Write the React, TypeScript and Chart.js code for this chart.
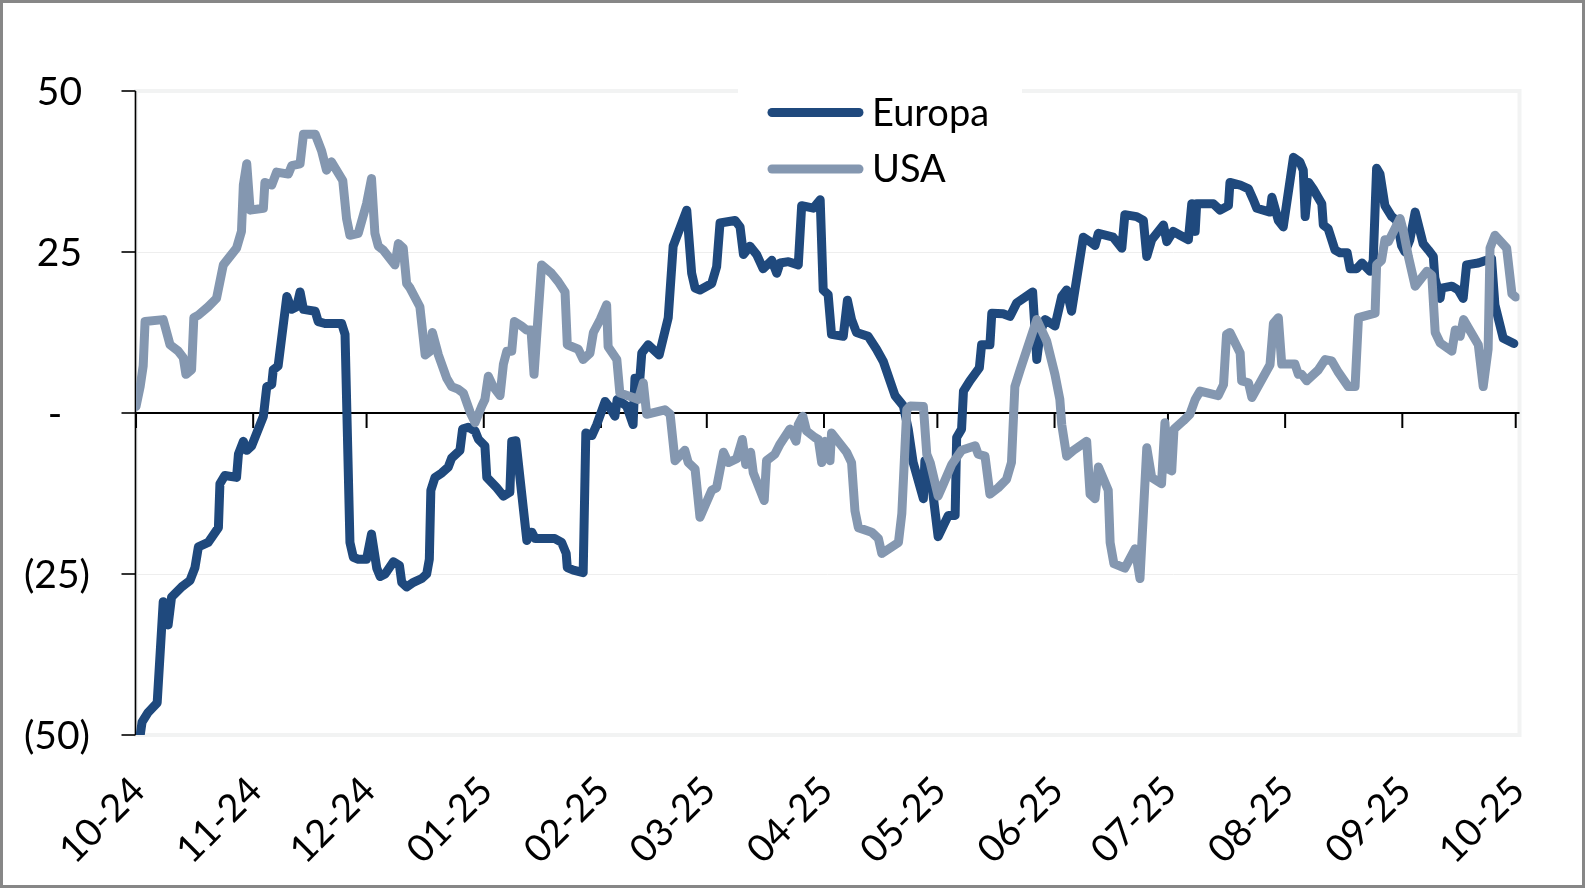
import { useEffect, useRef } from "react";
import { Chart, registerables } from "chart.js";

Chart.register(...registerables);

// ---- Axis / tick data ----
const monthLabels = ["10-24", "11-24", "12-24", "01-25", "02-25", "03-25", "04-25", "05-25", "06-25", "07-25", "08-25", "09-25", "10-25"];
// days since 2024-10-01 of each month start
const monthTickDays = [0, 31, 61, 92, 123, 151, 182, 212, 243, 273, 304, 335, 365];
const yTickValues = [50, 25, 0, -25, -50];
const yTickLabels = ["50", "25", "-", "(25)", "(50)"];
const seriesNames = ["Europa", "USA"];
const seriesColors = ["#1F497D", "#8497B0"];

// ---- Europa (x = days since 2024-10-01) ----
const europaDays = [
  1.0, 1.6, 3.2, 5.6, 7.2, 8.5, 9.4, 12.1, 14.3, 15.6, 16.5, 19.1, 21.8, 22.2, 23.5, 26.6, 27.1, 28.4, 29.3, 30.6,
  33.7, 34.6, 35.9, 36.3, 37.6, 39.9, 41.2, 42.5, 43.4, 44.3, 47.4, 48.2, 50.0, 54.4, 55.3, 56.6, 57.5, 58.8,
  61.0, 62.3, 63.7, 64.6, 65.9, 68.1, 69.7, 70.3, 71.6, 73.4, 75.6, 76.9, 77.6, 78.0, 79.1, 80.9, 82.6, 83.5, 85.7, 86.4, 87.9, 89.7, 90.6,
  92.3, 92.8, 95.4, 97.2, 98.9, 99.4, 100.5, 103.4, 104.7, 105.6, 106.9, 110.8, 112.6, 113.8, 114.1, 115.7, 118.3, 119.0, 120.6, 121.9,
  124.1, 125.4, 126.7, 127.3, 129.8, 131.5, 132.0, 133.3, 133.8, 135.5, 138.4, 140.8, 142.1, 145.7, 147.0, 147.9, 149.2,
  152.3, 153.6, 154.5, 158.5, 159.8, 160.7, 162.4, 164.2, 165.9, 168.2, 169.5, 170.4, 172.6, 175.2, 176.1, 179.2, 181.0, 181.8,
  183.1, 184.0, 187.1, 188.2, 189.3, 190.6, 193.7, 195.9, 197.7, 200.8, 203.0, 204.3, 205.6, 208.3, 208.7, 210.5,
  212.2, 214.9, 216.7, 217.1, 218.4, 218.9, 220.6, 223.1, 223.7, 225.9, 226.4, 229.4, 231.2, 233.0, 237.2, 237.8, 238.3, 239.2, 240.5,
  243.1, 244.9, 246.2, 247.5, 250.6, 252.4, 253.7, 254.6, 258.5, 260.8, 261.6, 264.7, 266.5, 267.4, 268.7, 271.8, 272.7,
  274.4, 276.2, 278.4, 279.3, 280.2, 280.6, 285.0, 286.8, 289.0, 289.4, 292.1, 294.3, 295.6, 296.5, 300.0, 300.5, 302.2,
  303.5, 306.2, 307.9, 308.8, 309.3, 310.2, 311.4, 313.7, 314.1, 315.4, 317.2, 318.5, 320.4, 321.2, 322.9, 324.3, 326.5, 327.3, 328.2, 329.1, 330.4, 332.2, 333.5,
  334.8, 335.7, 337.0, 338.4, 340.5, 341.9, 343.2, 343.6, 345.0, 345.4, 348.1, 349.8, 351.1, 352.0, 355.1, 358.6, 359.5, 361.7, 364.5,
];
const europaValues = [
  -50.5, -48.0, -46.5, -45.0, -29.3, -32.9, -28.6, -27.0, -26.0, -24.0, -20.8, -20.1, -17.8, -11.0, -9.7, -10.0, -6.4, -4.4, -5.8, -5.1,
  -0.5, 4.1, 4.4, 6.7, 7.3, 18.1, 16.1, 16.5, 18.8, 16.1, 15.8, 14.2, 13.9, 13.9, 12.2, -20.1, -22.4, -22.7,
  -22.7, -18.8, -24.1, -25.4, -25.0, -23.1, -23.7, -26.3, -27.0, -26.3, -25.7, -25.0, -22.7, -12.0, -10.0, -9.3, -8.4, -7.0, -5.8, -2.5, -2.2, -2.8, -4.1,
  -5.1, -10.0, -11.6, -12.9, -12.3, -4.4, -4.3, -19.8, -18.5, -19.5, -19.5, -19.5, -20.1, -21.8, -24.0, -24.4, -24.8, -3.1, -3.5, -1.8,
  1.8, 0.8, -0.5, 2.1, 1.1, -1.8, 5.4, 5.4, 9.3, 10.6, 9.0, 14.8, 25.9, 31.5, 21.7, 19.4, 19.1,
  20.1, 22.7, 29.5, 29.9, 28.9, 24.6, 25.9, 24.6, 22.4, 23.7, 21.7, 23.3, 23.5, 23.0, 32.2, 31.8, 33.1, 19.1,
  18.4, 12.2, 11.9, 17.5, 14.5, 12.5, 11.9, 9.9, 8.0, 2.7, 1.1, -2.5, -7.7, -13.3, -7.4, -11.0,
  -19.2, -15.9, -15.9, -3.8, -2.5, 3.4, 5.0, 7.0, 10.6, 10.6, 15.5, 15.4, 15.0, 17.1, 18.8, 13.2, 8.3, 12.5, 14.5,
  13.5, 18.1, 19.1, 15.8, 27.3, 26.6, 26.0, 27.9, 27.3, 25.6, 30.8, 30.5, 29.9, 24.3, 26.9, 29.2, 26.6,
  28.2, 27.6, 26.9, 32.5, 28.2, 32.5, 32.5, 31.5, 32.2, 35.8, 35.4, 34.8, 33.1, 31.8, 31.2, 33.5, 29.9,
  28.9, 39.7, 39.0, 37.7, 30.5, 35.8, 34.8, 32.5, 29.2, 28.6, 25.3, 24.9, 24.9, 22.4, 22.4, 23.3, 22.0, 23.7, 38.0, 37.1, 32.2, 30.5, 29.9,
  26.0, 25.0, 26.9, 31.2, 26.3, 25.3, 24.3, 21.0, 17.8, 19.4, 19.7, 19.1, 17.8, 23.0, 23.3, 24.0, 16.8, 11.6, 10.8,
];

// ---- USA (x = days since 2024-10-01) ----
const usaDays = [
  0.0, 1.1, 1.9, 2.4, 7.2, 9.0, 11.2, 12.5, 13.2, 14.7, 15.3, 16.5, 19.1, 21.3, 23.1, 26.6, 27.9, 28.4, 29.3, 30.2,
  33.7, 34.1, 35.9, 37.2, 40.3, 41.2, 43.4, 44.3, 47.4, 49.1, 50.4, 51.7, 54.7, 55.7, 56.6, 58.8,
  61.0, 62.3, 63.2, 64.1, 65.4, 68.5, 69.4, 70.7, 71.6, 72.5, 75.1, 76.5, 77.8, 78.4, 80.0, 82.2, 83.5, 85.2, 86.6, 88.4, 89.7, 91.5,
  92.3, 93.2, 94.5, 96.3, 97.2, 98.1, 99.4, 100.1, 102.0, 103.3, 104.5, 105.3, 107.3, 109.9, 111.7, 113.5, 114.1, 117.0, 118.3, 120.1, 121.0, 122.8,
  124.5, 124.9, 127.2, 128.0, 131.5, 132.9, 134.2, 135.1, 139.9, 141.3, 142.6, 145.2, 146.1, 147.9, 149.2,
  152.3, 153.6, 155.4, 156.7, 158.9, 160.4, 161.3, 162.6, 163.3, 166.2, 166.8, 169.0, 170.4, 173.0, 174.6, 175.2, 176.4, 177.4, 179.6, 180.5, 181.4,
  182.3, 183.6, 184.0, 188.0, 189.3, 190.2, 191.1, 194.6, 196.4, 197.3, 201.7, 202.6, 203.9, 204.8, 208.3, 209.2, 210.1,
  212.2, 213.6, 215.8, 218.4, 222.0, 222.8, 224.6, 225.9, 228.1, 230.3, 231.6, 232.5, 233.9, 238.3, 240.9,
  243.1, 244.4, 244.9, 246.2, 248.0, 251.5, 252.4, 253.7, 254.6, 257.2, 257.7, 258.7, 261.6, 264.3, 265.6, 267.4, 268.7, 271.3, 272.2,
  273.1, 274.0, 274.6, 277.1, 278.8, 280.2, 281.5, 286.3, 287.7, 288.5, 289.4, 292.1, 292.5, 294.3, 295.2, 300.0, 300.9, 302.2,
  303.1, 306.6, 307.5, 308.4, 309.7, 312.8, 314.6, 316.3, 318.1, 320.7, 322.5, 323.4, 327.8, 328.2, 329.5, 330.4, 331.3,
  334.4, 335.3, 336.6, 338.4, 341.5, 342.8, 343.7, 345.0, 348.1, 349.0, 350.3, 351.2, 355.1, 356.4, 357.7, 358.2, 359.5, 362.6, 364.0, 365.0,
];
const usaValues = [
  1.0, 4.1, 7.3, 14.2, 14.5, 10.6, 9.6, 8.6, 6.0, 6.7, 14.8, 15.2, 16.5, 17.8, 23.0, 25.6, 28.2, 35.4, 38.7, 31.5,
  31.8, 35.8, 35.4, 37.4, 37.1, 38.4, 38.7, 43.3, 43.3, 40.7, 37.7, 39.0, 36.1, 30.2, 27.6, 27.9,
  32.5, 36.4, 27.9, 25.9, 25.3, 23.0, 26.3, 25.6, 20.1, 19.4, 16.5, 9.0, 9.6, 12.5, 9.0, 5.4, 4.1, 3.7, 3.1, 0.1, -1.5, 1.1,
  2.1, 5.7, 4.1, 2.7, 7.6, 9.6, 9.6, 14.2, 13.5, 12.9, 12.9, 6.0, 23.0, 21.7, 20.4, 18.8, 10.6, 9.9, 8.3, 9.3, 12.5, 14.5,
  16.8, 10.3, 8.3, 3.1, 2.4, 2.1, 4.7, -0.2, 0.5, -0.2, -7.4, -5.8, -7.7, -8.7, -16.2,
  -12.0, -11.6, -6.1, -7.7, -7.1, -4.1, -8.0, -6.1, -9.3, -13.6, -7.4, -6.4, -4.8, -2.5, -4.4, -1.8, -0.5, -2.8, -3.8, -4.1, -7.7,
  -4.4, -7.4, -3.1, -6.1, -7.7, -15.2, -17.8, -18.5, -19.5, -21.8, -20.1, -15.6, 0.5, 1.1, 1.0, -6.4, -7.7,
  -12.9, -11.0, -8.0, -5.8, -5.1, -6.4, -6.7, -12.6, -11.6, -10.3, -7.7, 4.1, 6.7, 14.5, 11.2,
  6.0, 2.1, -1.8, -6.7, -5.8, -4.4, -12.6, -13.3, -8.4, -12.0, -20.1, -23.4, -24.1, -21.1, -25.7, -5.4, -10.0, -11.0, -1.5,
  -8.7, -9.0, -2.5, -1.2, -0.2, 2.1, 3.4, 2.7, 4.4, 12.2, 12.5, 9.3, 5.0, 4.7, 2.4, 7.5, 13.9, 14.8,
  7.6, 7.6, 6.0, 6.0, 5.0, 6.7, 8.3, 8.1, 6.3, 4.1, 4.1, 14.8, 15.5, 23.0, 23.7, 26.9, 26.6,
  30.2, 28.2, 24.3, 19.7, 22.0, 21.4, 12.5, 10.9, 9.6, 12.9, 11.9, 14.5, 10.6, 4.1, 9.9, 25.6, 27.6, 25.6, 18.5, 18.0,
];

const FONT = "Lato, 'Open Sans', 'DejaVu Sans', sans-serif";

const toPoints = (days: number[], vals: number[]) => days.map((d, i) => ({ x: d, y: vals[i] }));

const decorPlugin = {
  id: "decor",
  beforeDatasetsDraw(chart: any) {
    const { ctx, chartArea, scales } = chart;
    const xs = scales.x;
    const ys = scales.y;
    ctx.save();
    // faint gridlines
    ctx.strokeStyle = "#EEEEEE";
    ctx.lineWidth = 1;
    for (const v of yTickValues) {
      if (v === 0 || Math.abs(v) === 50) continue;
      const y = Math.round(ys.getPixelForValue(v)) + 0.5;
      ctx.beginPath();
      ctx.moveTo(chartArea.left, y);
      ctx.lineTo(chartArea.right, y);
      ctx.stroke();
    }
    // plot area border (light)
    ctx.strokeStyle = "#F2F3F3";
    ctx.lineWidth = 4;
    ctx.strokeRect(chartArea.left, chartArea.top, chartArea.right - chartArea.left, chartArea.bottom - chartArea.top);
    // legend background
    ctx.fillStyle = "#FFFFFF";
    ctx.fillRect(738, 86, 284, 104);
    // y axis line & ticks
    ctx.strokeStyle = "#000000";
    ctx.lineWidth = 1.6;
    const ax = chartArea.left - 0.5;
    ctx.beginPath();
    ctx.moveTo(ax, ys.getPixelForValue(50));
    ctx.lineTo(ax, ys.getPixelForValue(-50));
    ctx.stroke();
    for (const v of yTickValues) {
      const y = ys.getPixelForValue(v);
      ctx.beginPath();
      ctx.moveTo(ax - 14, y);
      ctx.lineTo(ax, y);
      ctx.stroke();
    }
    // zero axis line & month ticks
    const y0 = ys.getPixelForValue(0);
    ctx.lineWidth = 2;
    ctx.beginPath();
    ctx.moveTo(chartArea.left, y0);
    ctx.lineTo(chartArea.right, y0);
    ctx.stroke();
    for (const d of monthTickDays) {
      const x = xs.getPixelForValue(d);
      ctx.beginPath();
      ctx.moveTo(x, y0);
      ctx.lineTo(x, y0 + 15);
      ctx.stroke();
    }
    ctx.restore();
  },
  afterDatasetsDraw(chart: any) {
    const { ctx, scales } = chart;
    const xs = scales.x;
    const ys = scales.y;
    ctx.save();
    ctx.fillStyle = "#000000";
    ctx.font = `39px ${FONT}`;
    ctx.textBaseline = "alphabetic";
    // y labels
    yTickValues.forEach((v, i) => {
      const y = ys.getPixelForValue(v) + 14;
      const label = yTickLabels[i];
      if (v > 0) {
        ctx.textAlign = "right";
        ctx.fillText(label, 82, y);
      } else if (v < 0) {
        ctx.textAlign = "right";
        ctx.fillText(label, 90, y);
      } else {
        ctx.textAlign = "center";
        ctx.fillText(label, 55, y);
      }
    });
    // x labels rotated
    ctx.font = `38px ${FONT}`;
    monthTickDays.forEach((d, i) => {
      const x = xs.getPixelForValue(d);
      ctx.save();
      ctx.translate(x + 11, 793);
      ctx.rotate(-Math.PI / 4);
      ctx.textAlign = "right";
      ctx.fillText(monthLabels[i], 0, 0);
      ctx.restore();
    });
    // legend
    const legendY = [112.5, 169];
    ctx.font = `38px ${FONT}`;
    ctx.textAlign = "left";
    seriesNames.forEach((name, i) => {
      ctx.strokeStyle = seriesColors[i];
      ctx.lineWidth = 9;
      ctx.lineCap = "round";
      ctx.beginPath();
      ctx.moveTo(772, legendY[i]);
      ctx.lineTo(859, legendY[i]);
      ctx.stroke();
      ctx.fillStyle = "#000000";
      ctx.fillText(name, 872, legendY[i] + 13);
    });
    ctx.restore();
  },
  afterDraw(chart: any) {
    const { ctx, width, height } = chart;
    ctx.save();
    ctx.strokeStyle = "#878787";
    ctx.lineWidth = 3;
    ctx.strokeRect(1.5, 1.5, width - 3, height - 3);
    ctx.restore();
  },
};

export default function App() {
  const canvasRef = useRef<HTMLCanvasElement | null>(null);

  useEffect(() => {
    if (!canvasRef.current) return;
    const chart = new Chart(canvasRef.current, {
      type: "line",
      data: {
        datasets: [
          {
            label: seriesNames[0],
            data: toPoints(europaDays, europaValues),
            borderColor: seriesColors[0],
            borderWidth: 9,
            pointRadius: 0,
            tension: 0,
            borderJoinStyle: "round",
            borderCapStyle: "round",
            order: 1,
          },
          {
            label: seriesNames[1],
            data: toPoints(usaDays, usaValues),
            borderColor: seriesColors[1],
            borderWidth: 9,
            pointRadius: 0,
            tension: 0,
            borderJoinStyle: "round",
            borderCapStyle: "round",
            order: 0,
          },
        ],
      },
      options: {
        animation: false,
        responsive: false,
        maintainAspectRatio: false,
        layout: { padding: { left: 0, right: 65.5, top: 91, bottom: 0 } },
        plugins: { legend: { display: false }, tooltip: { enabled: false } },
        scales: {
          x: {
            type: "linear",
            min: 0,
            max: 366,
            grid: { display: false },
            border: { display: false },
            ticks: { display: false },
            afterFit: (s: any) => {
              s.height = 153;
            },
          },
          y: {
            min: -50,
            max: 50,
            grid: { display: false },
            border: { display: false },
            ticks: { display: false, stepSize: 25 },
            afterFit: (s: any) => {
              s.width = 136;
            },
          },
        },
      },
      plugins: [decorPlugin],
    } as any);
    return () => chart.destroy();
  }, []);

  return (
    <div style={{ position: "absolute", left: 0, top: 0, width: 1585, height: 888, background: "#FFFFFF" }}>
      <canvas ref={canvasRef} width={1585} height={888} style={{ display: "block" }} />
    </div>
  );
}
